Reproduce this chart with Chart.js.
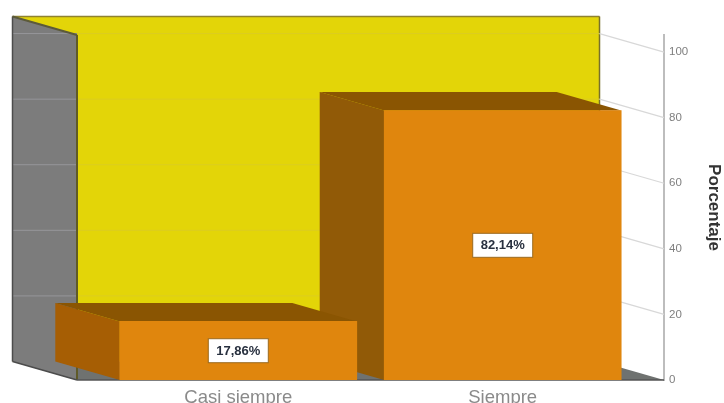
<!DOCTYPE html>
<html>
<head>
<meta charset="utf-8">
<script src="https://cdn.jsdelivr.net/npm/chart.js@4"></script>
<style>
    html, body { margin: 0; padding: 0; background: #fff; overflow: hidden; }
    canvas { display: block; }
</style>
</head>
<body>
<canvas id="chart" width="724" height="403"></canvas>
<script>
const categories = ['Casi siempre', 'Siempre'];
const porcentajes = [17.86, 82.14];
const yTicks = [0, 20, 40, 60, 80, 100];

// box depth of the fake 3D projection
const DEPTH_X = 64.5;
const DEPTH_Y = 18.5;

function poly(ctx, pts, fill) {
    ctx.beginPath();
    pts.forEach((p, i) => i ? ctx.lineTo(p[0], p[1]) : ctx.moveTo(p[0], p[1]));
    ctx.closePath();
    ctx.fillStyle = fill;
    ctx.fill();
}

function line(ctx, x1, y1, x2, y2, color, width) {
    ctx.beginPath();
    ctx.moveTo(x1, y1);
    ctx.lineTo(x2, y2);
    ctx.strokeStyle = color;
    ctx.lineWidth = width;
    ctx.stroke();
}

const box3d = {
    id: 'box3d',
    beforeDatasetsDraw(chart) {
        const ctx = chart.ctx;
        const { left, right, top, bottom } = chart.chartArea;
        const yScale = chart.scales.y;
        const backL = left - DEPTH_X;
        const backR = right - DEPTH_X;
        const backT = top - DEPTH_Y;
        const backB = bottom - DEPTH_Y;

        ctx.save();
        // back wall, floor, side wall
        poly(ctx, [[backL, backT], [backR, backT], [backR, backB], [backL, backB]], '#e3d508');
        line(ctx, backL, backT, backR, backT, '#8f8230', 1.5);
        line(ctx, backR, backT, backR, backB, '#77702a', 1.5);
        poly(ctx, [[backL, backB], [backR, backB], [right, bottom], [left, bottom]], '#6f7270');
        poly(ctx, [[backL, backT], [left, top], [left, bottom], [backL, backB]], '#7c7c7c');

        // grid lines follow the walls
        yTicks.slice(1).forEach(v => {
            const y = yScale.getPixelForValue(v);
            line(ctx, backL, y - DEPTH_Y, left, y - DEPTH_Y, '#96969a', 1);
            line(ctx, left, y - DEPTH_Y, backR, y - DEPTH_Y, '#dccd20', 1);
            line(ctx, backR, y - DEPTH_Y, right, y, '#d8d8d8', 1.2);
        });

        line(ctx, backL, backT, backL, backB, '#4c4c4c', 1.5);
        line(ctx, backL, backT, left, top, '#5c5a3a', 2);
        line(ctx, left, top, left, bottom, '#5f5a28', 2);
        line(ctx, backL, backB, left, bottom, '#4c4c4c', 1.5);
        line(ctx, left, bottom, right, bottom, '#555', 1.5);

        // tall bar first so the short one overlaps it
        const bars = chart.getDatasetMeta(0).data;
        const sideColors = ['#a65e04', '#915a07'];
        [1, 0].forEach(i => {
            const b = bars[i];
            const l = b.x - b.width / 2;
            const r = b.x + b.width / 2;
            poly(ctx, [[l - DEPTH_X, b.y - DEPTH_Y], [l, b.y], [l, b.base], [l - DEPTH_X, b.base - DEPTH_Y]], sideColors[i]);
            poly(ctx, [[l - DEPTH_X, b.y - DEPTH_Y], [r - DEPTH_X, b.y - DEPTH_Y], [r, b.y], [l, b.y]], '#8a5502');
        });
        ctx.restore();
    },
    afterDatasetsDraw(chart) {
        const ctx = chart.ctx;
        const bars = chart.getDatasetMeta(0).data;
        ctx.save();
        ctx.font = 'bold 13px "Liberation Sans"';
        ctx.textAlign = 'center';
        ctx.textBaseline = 'middle';
        bars.forEach((b, i) => {
            const text = porcentajes[i].toFixed(2).replace('.', ',') + '%';
            const cy = (b.y + b.base) / 2;
            ctx.fillStyle = '#fff';
            ctx.fillRect(b.x - 30, cy - 12, 60, 24);
            ctx.strokeStyle = '#9a6a20';
            ctx.lineWidth = 1;
            ctx.strokeRect(b.x - 30, cy - 12, 60, 24);
            ctx.fillStyle = '#28303f';
            ctx.fillText(text, b.x, cy + 0.5);
        });
        ctx.restore();
    }
};

new Chart(document.getElementById('chart').getContext('2d'), {
    type: 'bar',
    data: {
        datasets: [{
            data: categories.map((c, i) => ({ x: i, y: porcentajes[i] })),
            backgroundColor: '#e0860d',
            borderWidth: 0,
            barThickness: 237
        }]
    },
    options: {
        responsive: false,
        animation: false,
        layout: { padding: { left: 77, top: 35 } },
        plugins: { legend: { display: false }, tooltip: { enabled: false } },
        scales: {
            x: {
                type: 'linear',
                offset: false,
                min: -0.61,
                max: 1.61,
                afterBuildTicks: scale => { scale.ticks = categories.map((c, i) => ({ value: i })); },
                afterFit: scale => { scale.height = 23; },
                grid: { display: false, tickLength: 0 },
                border: { display: false },
                ticks: {
                    autoSkip: false,
                    maxRotation: 0,
                    padding: 7,
                    color: '#8a8a8a',
                    font: { family: '"Liberation Sans"', size: 18.5 },
                    callback: value => categories[value]
                }
            },
            y: {
                position: 'right',
                min: 0,
                max: 105.2,
                afterBuildTicks: scale => { scale.ticks = yTicks.map(v => ({ value: v })); },
                afterFit: scale => { scale.width = 60; },
                grid: { display: false, tickLength: 0 },
                border: { display: true, color: '#bdbdbd', width: 2 },
                ticks: {
                    padding: 5,
                    color: '#7f7f7f',
                    font: { family: '"Liberation Sans"', size: 11.5 }
                },
                title: {
                    display: true,
                    text: 'Porcentaje',
                    color: '#333',
                    padding: { top: 0, bottom: 1 },
                    font: { family: '"Liberation Sans"', size: 17, weight: 'bold' }
                }
            }
        }
    },
    plugins: [box3d]
});
</script>
</body>
</html>
